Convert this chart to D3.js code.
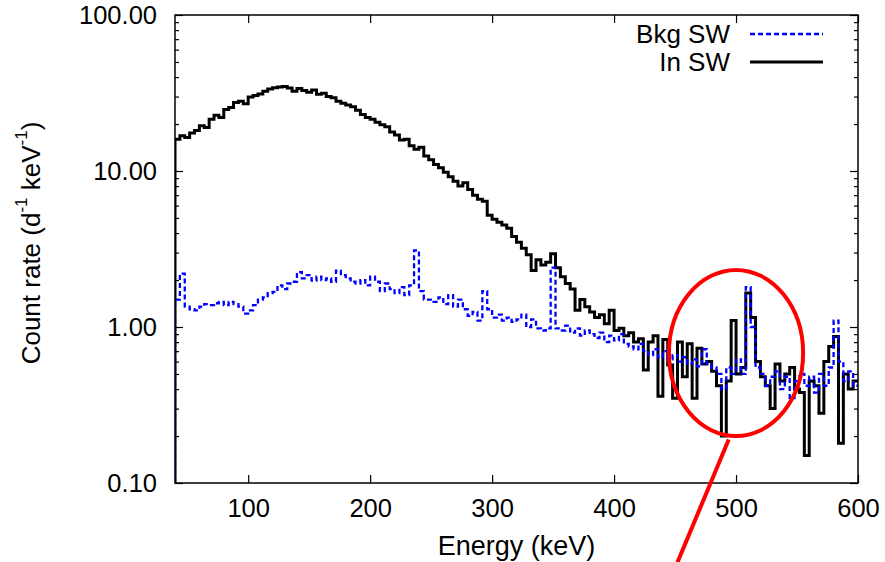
<!DOCTYPE html>
<html>
<head>
<meta charset="utf-8">
<script src="https://cdn.jsdelivr.net/npm/d3@7"></script>
<style>
  body { margin: 0; background: #fff; }
  text { font-family: "Liberation Sans", Arial, Helvetica, sans-serif; fill: #000; }
</style>
</head>
<body>
<svg id="chart" width="885" height="562"></svg>
<script>
// histogram bins: 4 keV wide, first bin starts at 40 keV
const binStart = 40, binWidth = 4;

// count rate in signal window (d^-1 keV^-1), one value per bin
const inSW = [
  16.0, 16.8, 16.4, 17.5, 18.2, 19.5, 19.0, 21.5, 22.8, 22.0,   // 40-
  24.8, 25.5, 27.5, 28.0, 27.0, 29.8, 30.5, 31.2, 32.5, 33.5,   // 80-
  34.2, 34.5, 34.8, 34.0, 32.5, 33.8, 32.8, 32.0, 33.0, 31.0,   // 120-
  31.5, 30.0, 29.5, 28.0, 27.2, 26.5, 25.8, 24.5, 23.0, 22.0,   // 160-
  21.5, 20.5, 19.8, 19.2, 17.8, 17.0, 15.8, 16.0, 14.5, 13.8,   // 200-
  14.2, 12.5, 11.8, 11.0, 10.5, 9.8, 9.2, 8.6, 8.0, 8.4,        // 240-
  7.6, 7.0, 6.6, 6.4, 5.2, 4.9, 4.7, 4.5, 4.3, 3.8,             // 280-
  3.5, 3.2, 2.9, 2.3, 2.7, 2.5, 2.6, 2.95, 2.4, 2.1,            // 320-
  1.9, 1.75, 1.28, 1.5, 1.35, 1.25, 1.15, 1.2, 1.05, 1.28,      // 360-
  0.95, 0.98, 0.88, 0.92, 0.8, 0.84, 0.53, 0.8, 0.88, 0.36,     // 400-
  0.83, 0.57, 0.35, 0.8, 0.48, 0.78, 0.35, 0.73, 0.58, 0.6,     // 440-
  0.52, 0.42, 0.2, 0.45, 1.1, 0.5, 0.55, 1.65, 1.15, 0.6,       // 480-
  0.48, 0.42, 0.3, 0.58, 0.45, 0.5, 0.55, 0.4, 0.38, 0.15,      // 520-
  0.45, 0.42, 0.28, 0.6, 0.75, 0.87, 0.18, 0.5, 0.4, 0.45       // 560-
];

// background window count rate
const bkgSW = [
  1.5, 2.2, 1.35, 1.3, 1.28, 1.35, 1.4, 1.38, 1.42, 1.45,       // 40-
  1.38, 1.45, 1.4, 1.35, 1.22, 1.28, 1.38, 1.5, 1.55, 1.65,     // 80-
  1.68, 1.85, 1.75, 1.9, 1.95, 2.25, 2.05, 2.15, 1.98, 2.1,     // 120-
  2.0, 2.05, 1.95, 2.3, 2.15, 2.05, 1.95, 1.9, 2.0, 1.85,       // 160-
  2.1, 1.95, 1.7, 1.9, 1.75, 1.65, 1.8, 1.6, 1.85, 3.1,         // 200-
  1.7, 1.5, 1.5, 1.45, 1.55, 1.4, 1.6, 1.35, 1.5, 1.3,          // 240-
  1.18, 1.25, 1.1, 1.7, 1.3, 1.15, 1.2, 1.1, 1.15, 1.08,        // 280-
  1.12, 1.2, 1.0, 1.12, 0.98, 0.95, 0.98, 2.4, 0.98, 0.95,      // 320-
  1.02, 0.92, 0.98, 0.88, 0.95, 0.9, 0.85, 0.92, 0.8, 0.88,     // 360-
  0.82, 0.9, 0.78, 0.75, 0.72, 0.78, 0.7, 0.66, 0.72, 0.64,     // 400-
  0.7, 0.62, 0.66, 0.6, 0.64, 0.58, 0.62, 0.56, 0.72, 0.58,     // 440-
  0.55, 0.5, 0.4, 0.55, 0.5, 0.62, 0.5, 1.8, 1.0, 0.55,         // 480-
  0.5, 0.42, 0.48, 0.52, 0.4, 0.48, 0.35, 0.45, 0.5, 0.42,      // 520-
  0.48, 0.38, 0.5, 0.42, 0.55, 1.1, 0.6, 0.45, 0.52, 0.42       // 560-
];

const xTicks = [100, 200, 300, 400, 500, 600];
const yTicks = [0.1, 1, 10, 100];
const seriesNames = ['Bkg SW', 'In SW'];

// red ring around the 511 keV region (keV / count rate)
const ringX = [445, 555];
const ringY = [2.32, 0.2];
const pointer = [[494, 0.19], [452, 0.031]];

const W = 885, H = 562;
const margin = { top: 15, right: 27, bottom: 79, left: 175 };
const pw = W - margin.left - margin.right;
const ph = H - margin.top - margin.bottom;

const svg = d3.select('#chart');

const x = d3.scaleLinear().domain([40, 600]).range([margin.left, margin.left + pw]);
const y = d3.scaleLog().domain([0.1, 100]).range([margin.top + ph, margin.top]);

svg.append('defs').append('clipPath').attr('id', 'plot-clip')
  .append('rect')
  .attr('x', margin.left).attr('y', margin.top)
  .attr('width', pw).attr('height', ph);

// minor log ticks (2..9 in each decade)
const minorY = y.ticks().filter(v => !yTicks.some(t => Math.abs(t - v) < 1e-9));

const fmtY = d3.format('.2f');

// left axis
svg.append('g')
  .attr('transform', `translate(${margin.left},0)`)
  .call(d3.axisLeft(y).tickValues(yTicks).tickFormat(fmtY).tickSize(-8).tickPadding(18))
  .call(g => g.select('.domain').remove())
  .call(g => g.selectAll('text').style('font-size', '25.5px'));
svg.append('g')
  .attr('transform', `translate(${margin.left},0)`)
  .call(d3.axisLeft(y).tickValues(minorY).tickFormat('').tickSize(-4))
  .call(g => g.select('.domain').remove());

// right axis
svg.append('g')
  .attr('transform', `translate(${margin.left + pw},0)`)
  .call(d3.axisRight(y).tickValues(yTicks).tickFormat('').tickSize(-8))
  .call(g => g.select('.domain').remove());
svg.append('g')
  .attr('transform', `translate(${margin.left + pw},0)`)
  .call(d3.axisRight(y).tickValues(minorY).tickFormat('').tickSize(-4))
  .call(g => g.select('.domain').remove());

// bottom + top axes
svg.append('g')
  .attr('transform', `translate(0,${margin.top + ph})`)
  .call(d3.axisBottom(x).tickValues(xTicks).tickFormat(d3.format('d')).tickSize(-8).tickPadding(16))
  .call(g => g.select('.domain').remove())
  .call(g => g.selectAll('text').style('font-size', '25.5px'));
svg.append('g')
  .attr('transform', `translate(0,${margin.top})`)
  .call(d3.axisTop(x).tickValues(xTicks).tickFormat('').tickSize(-8))
  .call(g => g.select('.domain').remove());

svg.selectAll('.tick line').attr('stroke', '#000').attr('stroke-width', 1.2);

// histogram lines
const edges = d3.range(inSW.length).map(i => binStart + i * binWidth);
function histPoints(vals) {
  const pts = [[edges[0], 0.1]];
  vals.forEach((v, i) => pts.push([edges[i], v]));
  pts.push([edges[vals.length - 1] + binWidth, vals[vals.length - 1]]);
  return pts;
}
const line = d3.line()
  .x(d => x(d[0]))
  .y(d => y(d[1]))
  .curve(d3.curveStepAfter);

const plot = svg.append('g').attr('clip-path', 'url(#plot-clip)');
plot.append('path')
  .datum(histPoints(inSW))
  .attr('fill', 'none')
  .attr('stroke', '#000')
  .attr('stroke-width', 3)
  .attr('d', line);
plot.append('path')
  .datum(histPoints(bkgSW))
  .attr('fill', 'none')
  .attr('stroke', '#0000ff')
  .attr('stroke-width', 2.3)
  .attr('stroke-dasharray', '5,3')
  .attr('d', line);

// frame
svg.append('rect')
  .attr('x', margin.left).attr('y', margin.top)
  .attr('width', pw).attr('height', ph)
  .attr('fill', 'none')
  .attr('stroke', '#000')
  .attr('stroke-width', 1.5);

// legend
const legend = svg.append('g').attr('transform', 'translate(730,0)');
const legendRows = [
  { name: seriesNames[0], y: 34, color: '#0000ff', dash: '5,3', width: 2.3 },
  { name: seriesNames[1], y: 62, color: '#000', dash: null, width: 2.8 }
];
legendRows.forEach(r => {
  legend.append('text')
    .attr('x', 0).attr('y', r.y)
    .attr('text-anchor', 'end')
    .attr('dominant-baseline', 'central')
    .style('font-size', '26px')
    .text(r.name);
  legend.append('line')
    .attr('x1', 20).attr('x2', 93)
    .attr('y1', r.y).attr('y2', r.y)
    .attr('stroke', r.color)
    .attr('stroke-width', r.width)
    .attr('stroke-dasharray', r.dash);
});

// axis titles
svg.append('text')
  .attr('x', margin.left + pw / 2)
  .attr('y', 546)
  .attr('text-anchor', 'middle')
  .attr('dominant-baseline', 'central')
  .style('font-size', '27px')
  .text('Energy (keV)');

const yl = svg.append('text')
  .attr('transform', 'translate(31,243) rotate(-90)')
  .attr('text-anchor', 'middle')
  .attr('dominant-baseline', 'central')
  .style('font-size', '26px');
yl.append('tspan').text('Count rate (d');
yl.append('tspan').attr('baseline-shift', 'super').style('font-size', '17px').text('-1');
yl.append('tspan').text(' keV');
yl.append('tspan').attr('baseline-shift', 'super').style('font-size', '17px').text('-1');
yl.append('tspan').text(')');

// annotation ring + pointer
const cx = (x(ringX[0]) + x(ringX[1])) / 2;
const cy = (y(ringY[0]) + y(ringY[1])) / 2;
svg.append('ellipse')
  .attr('cx', cx).attr('cy', cy)
  .attr('rx', (x(ringX[1]) - x(ringX[0])) / 2)
  .attr('ry', (y(ringY[1]) - y(ringY[0])) / 2)
  .attr('fill', 'none')
  .attr('stroke', '#f00')
  .attr('stroke-width', 4);
svg.append('line')
  .attr('x1', x(pointer[0][0])).attr('y1', y(pointer[0][1]))
  .attr('x2', x(pointer[1][0])).attr('y2', y(pointer[1][1]))
  .attr('stroke', '#f00')
  .attr('stroke-width', 4);
</script>
</body>
</html>
